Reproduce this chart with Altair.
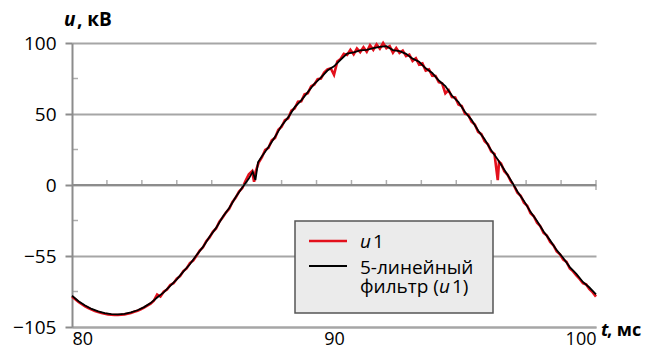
import altair as alt
import pandas as pd

# ---- data ----
t_filter = [80.00, 80.25, 80.50, 80.75, 81.00, 81.25, 81.50, 81.75, 82.00, 82.25,
            82.50, 82.75, 83.00, 83.25, 83.50, 83.75, 84.00, 84.25, 84.50, 84.75,
            85.00, 85.25, 85.50, 85.75, 86.00, 86.25, 86.50, 86.75, 86.90, 87.00,
            87.10, 87.25, 87.50, 87.75, 88.00, 88.25, 88.50, 88.75, 89.00, 89.25,
            89.50, 89.75, 90.00, 90.25, 90.50, 90.75, 91.00, 91.25, 91.50, 91.75,
            92.00, 92.25, 92.50, 92.75, 93.00, 93.25, 93.50, 93.75, 94.00, 94.25,
            94.50, 94.75, 95.00, 95.25, 95.50, 95.75, 96.00, 96.25, 96.50, 96.75,
            97.00, 97.25, 97.50, 97.75, 98.00, 98.25, 98.50, 98.75, 99.00, 99.25,
            99.50, 99.75, 100.00]
u_filter = [-78.0, -81.8, -84.9, -87.3, -89.0, -90.2, -90.9, -91.1, -90.7, -89.7,
            -88.2, -86.0, -83.2, -79.2, -75.6, -71.0, -66.4, -61.0, -55.8, -49.5,
            -43.6, -36.5, -30.2, -22.6, -16.2, -8.4, -1.8, 4.5, 9.4, 3.5,
            16.0, 20.2, 26.8, 33.9, 41.8, 47.6, 54.8, 59.6, 65.4, 71.3,
            75.6, 80.6, 83.6, 88.2, 92.6, 93.4, 94.8, 95.2, 96.4, 97.2,
            97.8, 95.0, 94.2, 92.4, 89.0, 86.8, 82.2, 78.9, 73.6, 69.6,
            63.0, 58.4, 51.4, 45.9, 38.4, 32.2, 24.4, 17.9, 10.8, 3.4,
            -4.6, -11.2, -18.9, -25.4, -32.8, -39.0, -45.9, -51.4, -57.8, -62.6,
            -68.3, -72.2, -77.0]

t_u1 = [80.000, 80.125, 80.250, 80.375, 80.500, 80.625, 80.750, 80.875, 81.000, 81.125,
        81.250, 81.375, 81.500, 81.625, 81.750, 81.875, 82.000, 82.125, 82.250, 82.375,
        82.500, 82.625, 82.750, 82.875, 83.000, 83.125, 83.250, 83.375, 83.500, 83.625,
        83.750, 83.875, 84.000, 84.125, 84.250, 84.375, 84.500, 84.625, 84.750, 84.875,
        85.000, 85.125, 85.250, 85.375, 85.500, 85.625, 85.750, 85.875, 86.000, 86.125,
        86.250, 86.375, 86.500, 86.625, 86.750, 86.875, 86.950, 87.000, 87.125, 87.250,
        87.375, 87.500, 87.625, 87.750, 87.875, 88.000, 88.125, 88.250, 88.375, 88.500,
        88.625, 88.750, 88.875, 89.000, 89.125, 89.250, 89.375, 89.500, 89.625, 89.750,
        89.875, 90.000, 90.125, 90.250, 90.375, 90.500, 90.625, 90.750, 90.875, 91.000,
        91.125, 91.250, 91.375, 91.500, 91.625, 91.750, 91.875, 92.000, 92.125, 92.250,
        92.375, 92.500, 92.625, 92.750, 92.875, 93.000, 93.125, 93.250, 93.375, 93.500,
        93.625, 93.750, 93.875, 94.000, 94.125, 94.250, 94.375, 94.500, 94.625, 94.750,
        94.875, 95.000, 95.125, 95.250, 95.375, 95.500, 95.625, 95.750, 95.875, 96.000,
        96.125, 96.250, 96.300, 96.375, 96.500, 96.625, 96.750, 96.875, 97.000, 97.125,
        97.250, 97.375, 97.500, 97.625, 97.750, 97.875, 98.000, 98.125, 98.250, 98.375,
        98.500, 98.625, 98.750, 98.875, 99.000, 99.125, 99.250, 99.375, 99.500, 99.625,
        99.750, 99.875, 100.000]
u_u1 = [-78.6, -80.4, -82.4, -84.0, -85.4, -86.6, -87.8, -88.7, -89.5, -90.2,
        -90.7, -91.1, -91.4, -91.5, -91.5, -91.4, -91.1, -90.6, -90.1, -89.3,
        -88.6, -87.5, -86.4, -85.0, -83.6, -81.4, -77.2, -78.6, -75.2, -73.6,
        -70.4, -69.2, -66.0, -64.2, -60.6, -58.8, -55.0, -53.2, -49.9, -46.2,
        -43.9, -39.6, -36.9, -33.0, -30.6, -25.8, -22.9, -19.4, -16.8, -11.9,
        -8.9, -4.6, -2.2, 2.9, 7.6, 9.8, 2.2, 8.9, 15.8, 19.6,
        24.8, 26.2, 31.4, 33.2, 38.9, 41.0, 45.6, 47.0, 52.4, 54.0,
        58.6, 59.0, 63.8, 64.6, 69.4, 70.8, 74.6, 75.0, 79.2, 81.4,
        82.2, 77.6, 86.9, 88.8, 92.4, 91.6, 95.2, 92.0, 96.1, 93.6,
        97.0, 93.8, 98.4, 95.2, 99.0, 96.0, 100.0, 96.4, 97.8, 93.2,
        96.4, 93.0, 94.6, 90.8, 91.8, 87.4, 89.2, 84.8, 85.6, 80.6,
        81.4, 77.0, 76.8, 72.4, 71.6, 64.6, 66.8, 62.0, 61.6, 56.6,
        55.6, 50.2, 49.4, 44.6, 42.6, 37.4, 35.8, 30.8, 28.6, 23.6,
        21.8, 3.4, 16.4, 15.2, 9.6, 7.2, 2.6, -0.6, -5.4, -7.6,
        -12.4, -14.6, -19.8, -22.0, -26.6, -29.0, -33.8, -35.6, -40.2, -42.4,
        -46.8, -48.8, -52.6, -54.2, -58.8, -60.8, -63.6, -66.2, -69.2, -70.0,
        -73.4, -75.6, -78.6]

y_tick_values = [-100, -50, 0, 50, 100]
y_tick_labels = ["\u2212105", "\u221255", "0", "50", "100"]
y_minor_values = [-75, -25, 25, 75]
x_tick_values = [80, 90, 100]
zero_tick_t = [81.333, 82.667, 84.0, 85.333, 86.667, 88.0, 89.333, 90.667,
               92.0, 93.333, 94.667, 96.0, 97.333, 98.667]
zero_tick_end = [100.0]
zero_line = [0]

FONT = "Open Sans"
GRID = "#a6a6a6"
AXIS = "#8c8c8c"
RED = "#e3101c"

W, H = 524, 284

df_red = pd.DataFrame({"t": t_u1, "u": u_u1})
df_black = pd.DataFrame({"t": t_filter, "u": u_filter})

xs = alt.Scale(domain=[80, 100], nice=False, zero=False)
ys = alt.Scale(domain=[-100, 100], nice=False, zero=False)

label_expr = " : ".join(
    f"datum.value == {v} ? '{l}'" for v, l in zip(y_tick_values, y_tick_labels)
) + " : datum.label"

y_axis = alt.Axis(values=y_tick_values, labelExpr=label_expr,
                  title=None, grid=True, gridColor=GRID, gridWidth=2,
                  domainColor=AXIS, domainWidth=2, tickColor=AXIS, tickWidth=2,
                  tickSize=7, labelPadding=9, labelFont=FONT, labelFontSize=19,
                  labelColor="#000")
x_axis = alt.Axis(values=x_tick_values, title=None, grid=False, ticks=False,
                  domainColor=GRID, domainWidth=2, labelFlush=True, labelPadding=3,
                  labelFont=FONT, labelFontSize=18, labelColor="#000")

X = lambda f: alt.X(f, scale=xs, axis=x_axis)
Y = lambda f: alt.Y(f, scale=ys, axis=y_axis)

red_line = alt.Chart(df_red).mark_line(color=RED, strokeWidth=2.6).encode(
    x=X("t:Q"), y=Y("u:Q"))
black_line = alt.Chart(df_black).mark_line(color="#000", strokeWidth=1.8).encode(
    x=X("t:Q"), y=Y("u:Q"))

zero_rule = alt.Chart(pd.DataFrame({"v": zero_line})).mark_rule(color=AXIS, strokeWidth=2).encode(
    y=Y("v:Q"), x=alt.value(0), x2=alt.value(W))

zero_ticks = alt.Chart(pd.DataFrame({"t": zero_tick_t, "v": [zero_line[0]] * len(zero_tick_t)})).mark_tick(
    orient="vertical", size=5, thickness=1.5, yOffset=-2.5, color=AXIS).encode(
    x=X("t:Q"), y=Y("v:Q"))
end_tick = alt.Chart(pd.DataFrame({"t": zero_tick_end, "v": zero_line})).mark_tick(
    orient="vertical", size=10, thickness=1.5, color=AXIS).encode(
    x=X("t:Q"), y=Y("v:Q"))

minor_y = alt.Chart(pd.DataFrame({"v": y_minor_values})).mark_tick(
    orient="horizontal", size=5, thickness=1.5, color=AXIS).encode(
    y=Y("v:Q"), x=alt.value(3.5))

one = pd.DataFrame({"a": [0]})
legend_box = alt.Chart(one).mark_rect(fill="#ebebeb", stroke="#555555", strokeWidth=1.5).encode(
    x=alt.value(223), x2=alt.value(421), y=alt.value(178), y2=alt.value(270))
leg_red = alt.Chart(one).mark_rule(color=RED, strokeWidth=2.6).encode(
    x=alt.value(237), x2=alt.value(275), y=alt.value(198))
leg_black = alt.Chart(one).mark_rule(color="#000", strokeWidth=2.2).encode(
    x=alt.value(237), x2=alt.value(275), y=alt.value(223))


def txt(s, x, y, size=19, style="normal", weight="normal"):
    return alt.Chart(one).mark_text(text=s, align="left", baseline="alphabetic",
                                    font=FONT, fontSize=size, fontStyle=style,
                                    fontWeight=weight, color="#000").encode(
        x=alt.value(x), y=alt.value(y))


texts = [
    txt("u", 288, 205, style="italic"),
    txt("1", 301, 205),
    txt("5-линейный", 288, 231),
    txt("фильтр (", 288, 250),
    txt("u", 367, 250, style="italic"),
    txt("1)", 380, 250),
    txt("u", -8, -17, size=19, style="italic", weight="bold"),
    txt(", кВ", 5, -17, size=19, weight="bold"),
    txt("t", 529, 293, size=18, style="italic", weight="bold"),
    txt(", мс", 535, 293, size=18, weight="bold"),
]

chart = alt.layer(
    red_line, zero_rule, zero_ticks, end_tick, minor_y, black_line,
    legend_box, leg_red, leg_black, *texts
).properties(
    width=W, height=H,
    autosize=alt.AutoSizeParams(type="none"),
    padding={"left": 64, "top": 35, "right": 49, "bottom": 20},
).configure_view(stroke=None)

chart.save("out.html", embed_options={"renderer": "svg", "actions": False})
